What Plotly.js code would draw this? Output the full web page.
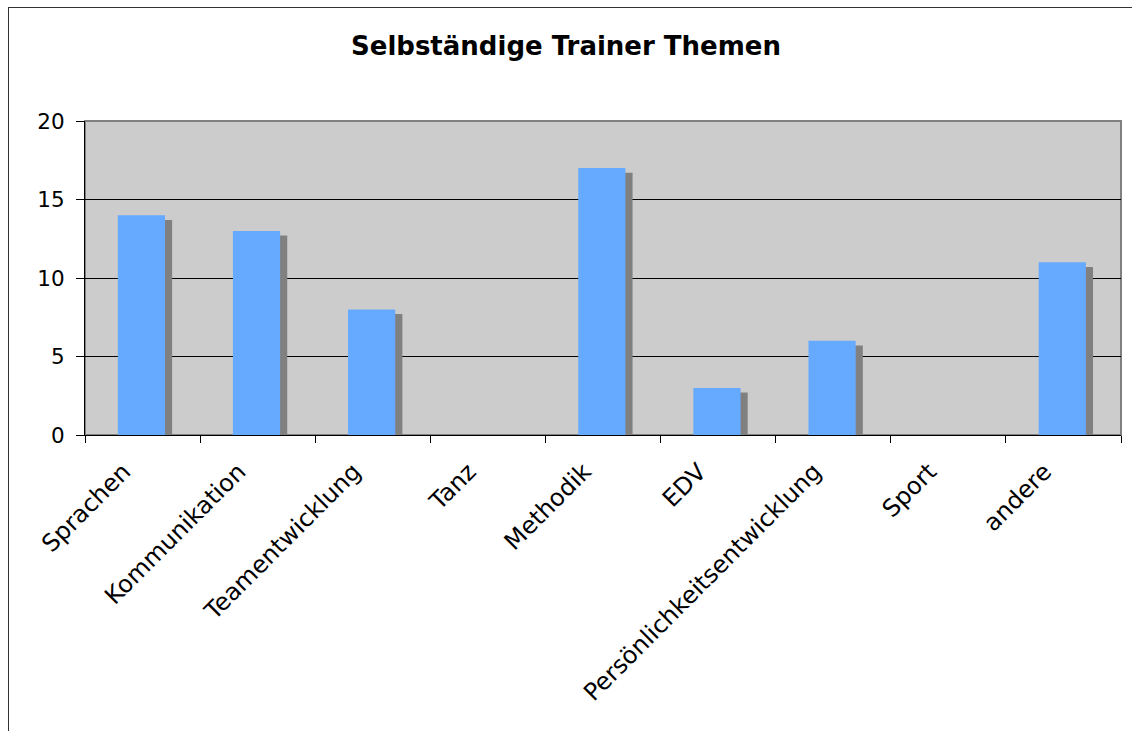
<!DOCTYPE html>
<html>
<head>
<meta charset="utf-8">
<script src="https://cdn.plot.ly/plotly-3.0.1.min.js"></script>
<style>
  html, body { margin: 0; padding: 0; background: #ffffff; }
  #wrap { position: relative; width: 1132px; height: 731px; overflow: hidden; }
  #frame { position: absolute; left: 8px; top: 7px; width: 1140px; height: 740px;
           border-left: 1px solid #333; border-top: 1px solid #333; pointer-events: none; }
  #chart { position: absolute; left: 0; top: 0; width: 1132px; height: 731px; }
</style>
</head>
<body>
<div id="wrap">
  <div id="chart"></div>
  <div id="frame"></div>
</div>
<script>
const categories = ["Sprachen", "Kommunikation", "Teamentwicklung", "Tanz", "Methodik", "EDV",
                    "Persönlichkeitsentwicklung", "Sport", "andere"];
const values = [14, 13, 8, 0, 17, 3, 6, 0, 11];
const yTicks = [0, 5, 10, 15, 20];
const chartTitle = "Selbständige Trainer Themen";

const font = "DejaVu Sans, Verdana, sans-serif";

const shadow = {
  type: "bar", x: categories, y: values, base: -0.3,
  width: 0.41, offset: -0.205 + 0.052,
  marker: { color: "#808080", line: { width: 0 } },
  hoverinfo: "skip", showlegend: false
};
const bars = {
  type: "bar", x: categories, y: values,
  width: 0.41, offset: -0.215,
  marker: { color: "#66aaff", line: { width: 0 } },
  showlegend: false
};

const layout = {
  width: 1132, height: 731,
  margin: { l: 85, r: 11, t: 121, b: 296, pad: 0 },
  paper_bgcolor: "rgba(0,0,0,0)",
  plot_bgcolor: "#cccccc",
  barmode: "overlay",
  font: { family: font, size: 18, color: "#000" },
  title: { text: "<b>" + chartTitle + "</b>", x: 0.5, xref: "container", xanchor: "center",
           y: 1 - 46 / 731, yref: "container", yanchor: "middle",
           font: { family: font, size: 26, color: "#000" } },
  xaxis: {
    type: "category", range: [-0.5, 8.5],
    tickson: "boundaries", ticks: "outside", ticklen: 7, tickcolor: "#000", tickwidth: 1,
    tickangle: -45, showgrid: false, showline: true, linecolor: "#000", linewidth: 1,
    ticklabelstandoff: 12, ticklabelshift: -19,
    tickfont: { family: font, size: 24, color: "#000" }, zeroline: false, automargin: false
  },
  yaxis: {
    range: [0, 20], tickvals: yTicks, ticktext: yTicks.map(String),
    ticks: "outside", ticklen: 8, tickcolor: "#000", tickwidth: 1,
    showgrid: true, gridcolor: "#000", gridwidth: 1,
    showline: true, linecolor: "#000", linewidth: 1, zeroline: false,
    ticklabelstandoff: 7,
    tickfont: { family: font, size: 21.5, color: "#000" }, automargin: false
  },
  shapes: [
    { type: "rect", xref: "paper", yref: "paper", x0: 0, x1: 1, y0: 0, y1: 1,
      line: { color: "#808080", width: 2 }, layer: "below" }
  ]
};

Plotly.newPlot("chart", [shadow, bars], layout, { displayModeBar: false, staticPlot: true });
</script>
</body>
</html>
